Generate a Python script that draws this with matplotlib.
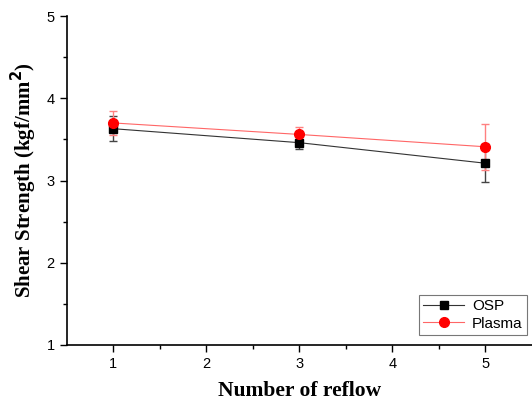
import numpy as np
import matplotlib.pyplot as plt
from matplotlib.lines import Line2D

reflow = [1, 3, 5]
osp = [3.63, 3.46, 3.21]
osp_err = [0.15, 0.08, 0.23]
plasma = [3.70, 3.56, 3.41]
plasma_err = [0.15, 0.09, 0.28]

fig = plt.figure(figsize=(5.32, 4.00), dpi=100)
ax = fig.add_axes([0.125, 0.1375, 0.875, 0.8225])

ax.errorbar(reflow, osp, yerr=osp_err, color='#333333', lw=0.8, marker='s', ms=6,
            mfc='black', mec='black', capsize=3, elinewidth=1.0, capthick=1.0,
            ecolor='#444444')
ax.errorbar(reflow, plasma, yerr=plasma_err, color='#ff6666', lw=0.8, marker='o', ms=7,
            mfc='red', mec='red', capsize=3, elinewidth=1.0, capthick=1.0,
            ecolor='#ff8080')

ax.set_xlim(0.5, 5.5)
ax.set_ylim(1, 5)
ax.set_xticks([1, 2, 3, 4, 5])
ax.set_yticks([1, 2, 3, 4, 5])
ax.set_xticks(np.arange(1.5, 5.5, 1), minor=True)
ax.set_yticks(np.arange(1.5, 5, 1), minor=True)
ax.tick_params(which='major', direction='out', length=5, width=1, labelsize=10.5)
ax.tick_params(which='minor', direction='out', length=3, width=1)
for lab in ax.get_xticklabels() + ax.get_yticklabels():
    lab.set_family('Liberation Sans')

ax.spines['top'].set_visible(False)
ax.spines['right'].set_visible(False)
ax.spines['left'].set_linewidth(1.2)
ax.spines['bottom'].set_linewidth(1.2)

ax.set_xlabel('Number of reflow', family='Liberation Serif', fontweight='bold',
              fontsize=15.5)
ax.set_ylabel('Shear Strength (kgf/mm$^\\mathbf{2}$)', family='Liberation Serif',
              fontweight='bold', fontsize=15)
ax.xaxis.set_label_coords(0.50, -0.11)
ax.yaxis.set_label_coords(-0.059, 0.5)

handles = [Line2D([], [], color='#333333', lw=0.8, marker='s', ms=6, mfc='black', mec='black'),
           Line2D([], [], color='#ff6666', lw=0.8, marker='o', ms=7, mfc='red', mec='red')]
leg = ax.legend(handles, ['OSP', 'Plasma'], loc='lower right',
                bbox_to_anchor=(0.99, 0.03),
                prop={'family': 'Liberation Sans', 'size': 11},
                fancybox=False, edgecolor='#555555', borderpad=0.3, labelspacing=0.2,
                handletextpad=0.5, handlelength=2.7, borderaxespad=0.0)
leg.get_frame().set_linewidth(0.8)

fig.savefig('out.png', dpi=100)
